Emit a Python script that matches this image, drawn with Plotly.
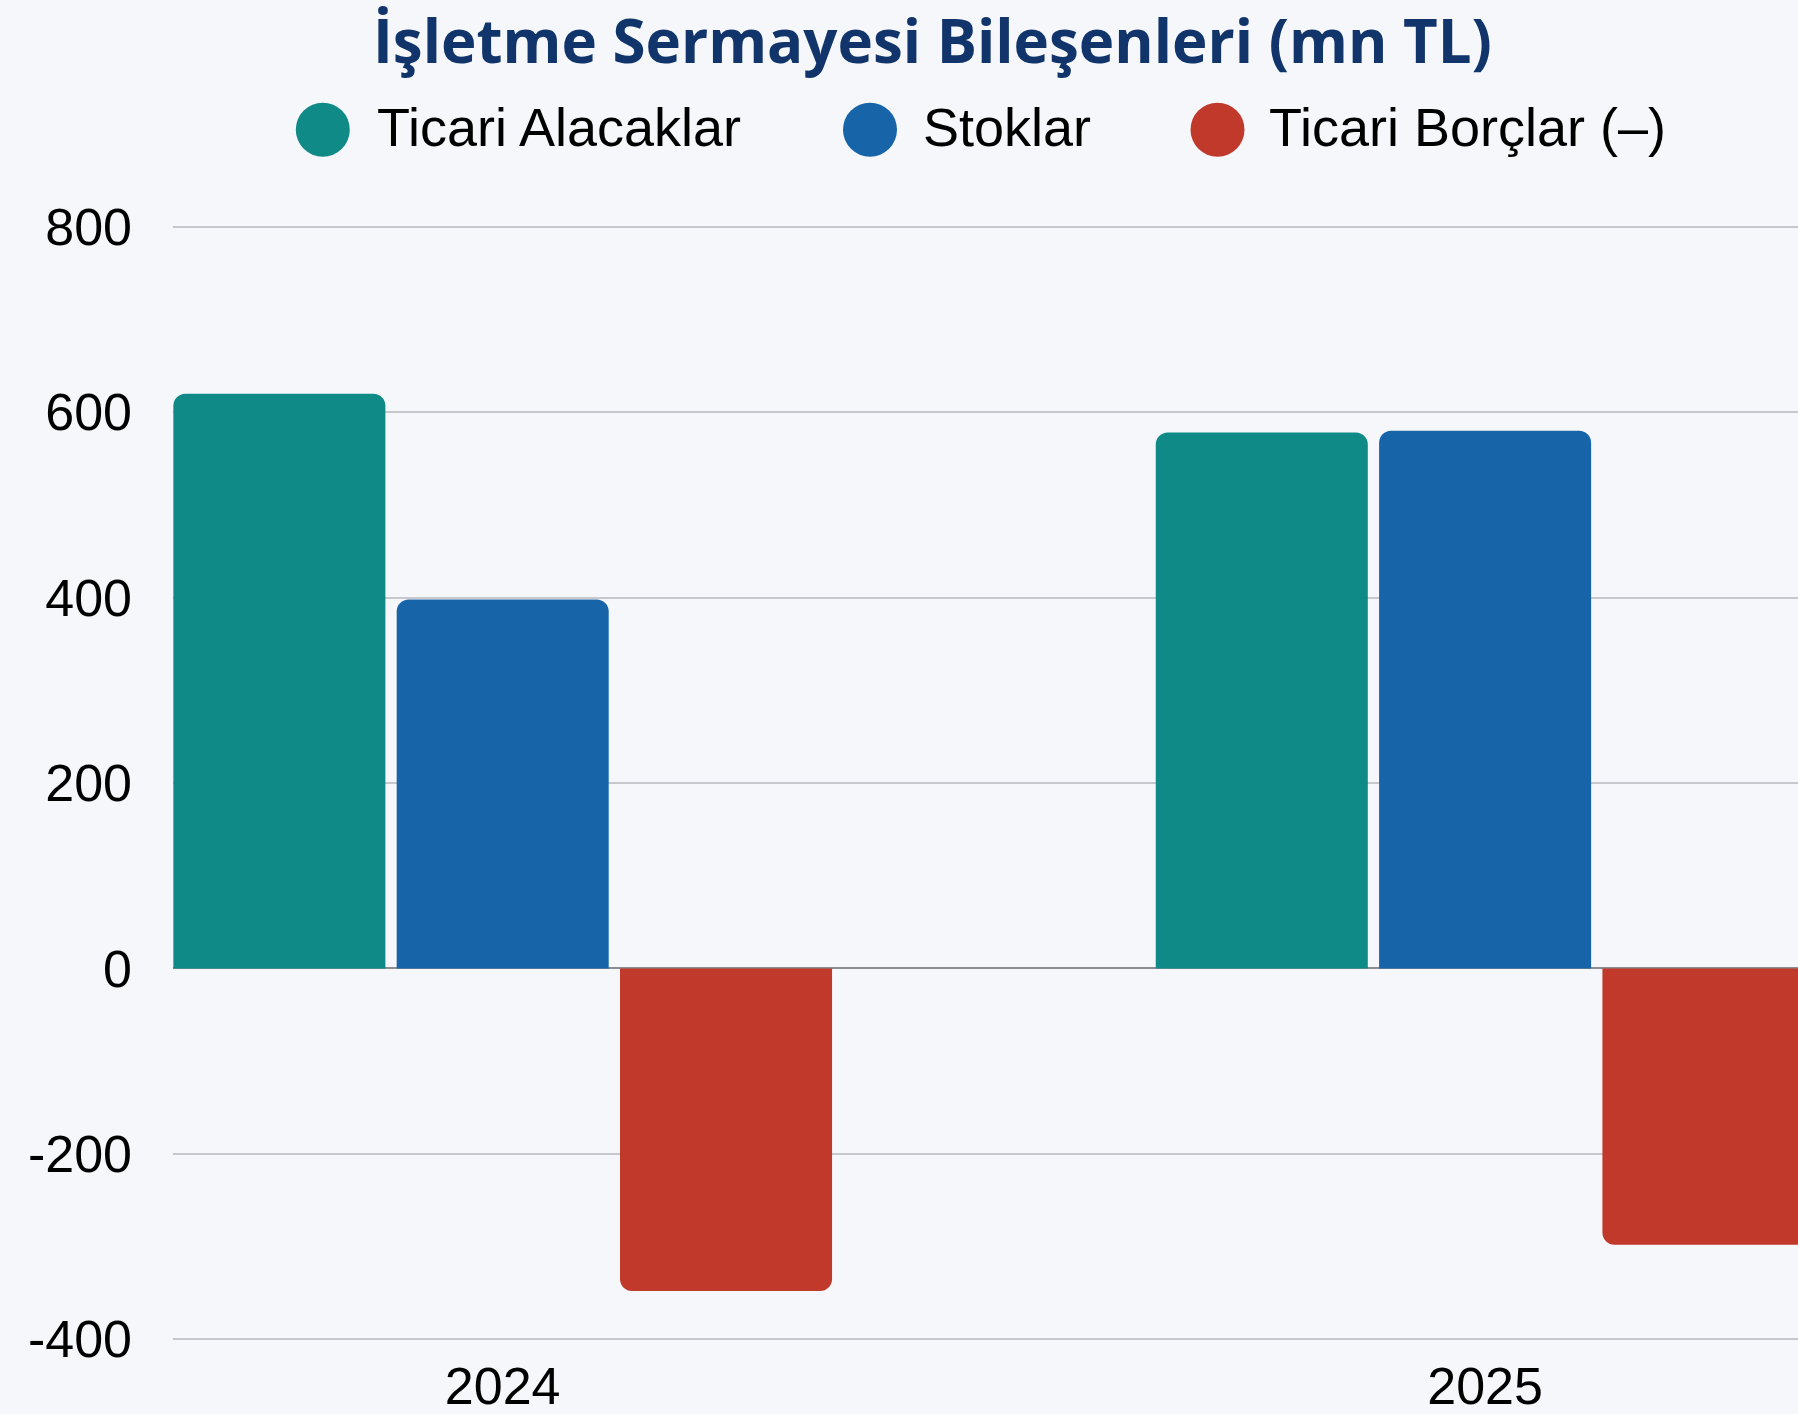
import plotly.graph_objects as go

years = ["2024", "2025"]
series_names = ["Ticari Alacaklar", "Stoklar", "Ticari Borçlar (–)"]
ticari_alacaklar = [620, 578]
stoklar = [398, 580]
ticari_borclar = [-348, -298]
colors = ["#0f8a87", "#1765a8", "#c0392b"]
y_ticks = [-400, -200, 0, 200, 400, 600, 800]
y_tick_labels = ["-400", "-200", "0", "200", "400", "600", "800"]

W, H = 1798, 1414
ML, MR, MT, MB = 173, 0, 224, 72
PW = W - ML - MR
PH = H - MT - MB

def px_x(px):
    return (px - ML) / PW

def px_y(py):
    return (H - MB - py) / PH

fig = go.Figure()
for name, vals, col in zip(series_names, [ticari_alacaklar, stoklar, ticari_borclar], colors):
    fig.add_trace(go.Bar(x=years, y=vals, name=name, marker=dict(color=col, line=dict(width=0)),
                         showlegend=False))

TICKFONT = dict(family="Liberation Sans, Arial, sans-serif", size=52, color="#000000")

fig.update_layout(
    width=W, height=H,
    margin=dict(l=ML, r=MR, t=MT, b=MB, pad=0),
    paper_bgcolor="#f5f7fb", plot_bgcolor="#f5f7fb",
    barmode="group", bargap=0.318, bargroupgap=0.0506, barcornerradius=12,
    xaxis=dict(type="category", range=[-0.3356, 1.3185], showgrid=False, zeroline=False,
               showline=False, ticks="", tickfont=TICKFONT, ticklabelstandoff=9,
               automargin=False),
    yaxis=dict(range=[-403, 803], tickvals=y_ticks, ticktext=y_tick_labels, showgrid=True,
               gridcolor="#c6c8cd", gridwidth=1.5, zeroline=True, zerolinecolor="#8a8c90",
               zerolinewidth=2, showline=False, ticks="", tickfont=TICKFONT, ticklabelstandoff=40,
               automargin=False),
    showlegend=False,
)

# title
fig.add_annotation(text="<b>İşletme Sermayesi Bileşenleri (mn TL)</b>", xref="paper", yref="paper",
                   x=px_x(932), y=px_y(40), xanchor="center", yanchor="middle", showarrow=False,
                   font=dict(family="Open Sans, sans-serif", size=60, color="#11356a"))

# custom legend with large circles
legend_circles = [322.8, 870.0, 1217.5]
legend_text_x = [375.0, 920.5, 1267.0]
cy = 129.7
for name, col, cx, tx in zip(series_names, colors, legend_circles, legend_text_x):
    fig.add_shape(type="circle", xref="paper", yref="paper", xsizemode="pixel", ysizemode="pixel",
                  xanchor=px_x(cx), yanchor=px_y(cy), x0=-27, x1=27, y0=-27, y1=27,
                  fillcolor=col, line=dict(width=0))
    fig.add_annotation(text=name, xref="paper", yref="paper", x=px_x(tx), y=px_y(cy - 2.5),
                       xanchor="left", yanchor="middle", showarrow=False,
                       font=dict(family="Liberation Sans, Arial, sans-serif", size=54, color="#000000"))

fig.write_html("out.html", config={"displayModeBar": False},
               post_script="document.body.style.margin='0';document.body.style.overflow='hidden';")
